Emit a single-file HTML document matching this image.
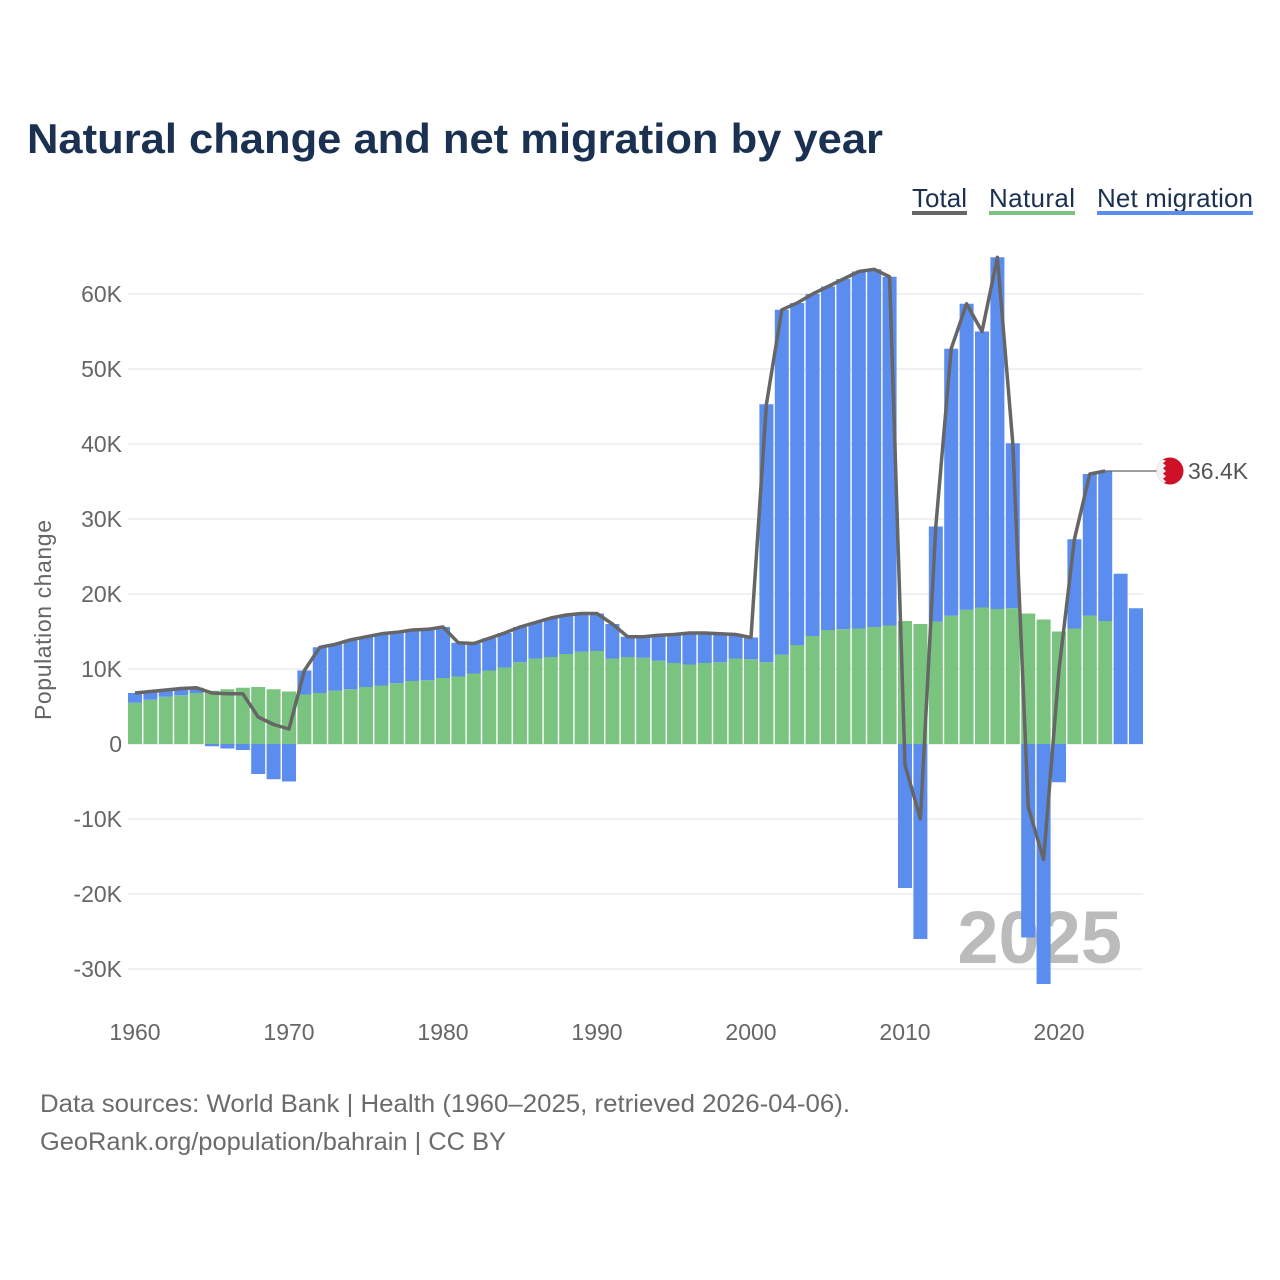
<!DOCTYPE html>
<html><head><meta charset="utf-8"><style>
body{margin:0;background:#fff;}
svg{display:block;font-family:"Liberation Sans",sans-serif;}
</style></head><body>
<svg id="chart" width="1280" height="1280" viewBox="0 0 1280 1280">
<text x="27" y="153" font-size="42" font-weight="bold" fill="#1b3152" textLength="856" lengthAdjust="spacingAndGlyphs">Natural change and net migration by year</text>
<g>
<g><text x="912" y="207" font-size="26" fill="#1b3152" textLength="55">Total</text><rect x="912" y="211" width="55" height="4" fill="#666"/></g>
<g><text x="989" y="207" font-size="26" fill="#1b3152" textLength="86">Natural</text><rect x="989" y="211" width="86" height="4" fill="#7bc47f"/></g>
<g><text x="1097" y="207" font-size="26" fill="#1b3152" textLength="156">Net migration</text><rect x="1097" y="211" width="156" height="4" fill="#5b8def"/></g>
</g>
<g id="grid"></g>
<g id="yticks"></g>
<g id="xticks"></g>
<text transform="translate(51,620) rotate(-90)" text-anchor="middle" font-size="23" fill="#666" textLength="200">Population change</text>
<text x="1122" y="963" text-anchor="end" font-size="74" font-weight="bold" fill="#bbb">2025</text>
<g id="bars"></g>
<path id="totalLine" fill="none" stroke="#666" stroke-width="3.5" stroke-linejoin="round"/>
<g id="endLabel"></g>
<text x="40" y="1112" font-size="25" fill="#6b6b6b" textLength="810" lengthAdjust="spacingAndGlyphs">Data sources: World Bank | Health (1960–2025, retrieved 2026-04-06).</text>
<text x="40" y="1150" font-size="25" fill="#6b6b6b" textLength="466" lengthAdjust="spacingAndGlyphs">GeoRank.org/population/bahrain | CC BY</text>
</svg>
<script>
const years = [];
for (let y = 1960; y <= 2025; y++) years.push(y);
const natural = [5.5,5.9,6.3,6.5,6.8,7.1,7.3,7.5,7.6,7.3,7.0,6.6,6.8,7.1,7.3,7.6,7.8,8.1,8.4,8.5,
8.8,9.0,9.4,9.8,10.2,10.9,11.4,11.6,12.0,12.3,12.4,11.4,11.6,11.5,11.1,10.8,10.6,10.8,10.9,11.4,
11.3,10.9,11.9,13.2,14.4,15.2,15.3,15.4,15.6,15.8,16.4,16.0,16.3,17.1,17.9,18.2,18.0,18.1,17.4,16.6,
15.0,15.4,17.1,16.4,null,null];
const migration = [1.3,1.1,0.9,0.9,0.7,-0.3,-0.6,-0.8,-4.0,-4.7,-5.0,3.2,6.1,6.2,6.6,6.7,6.9,6.8,6.8,6.8,
6.8,4.5,4.0,4.3,4.6,4.7,4.8,5.2,5.2,5.1,5.0,4.6,2.7,2.8,3.4,3.8,4.2,4.0,3.8,3.2,
2.9,34.4,46.0,45.6,45.6,45.8,46.7,47.6,47.7,46.5,-19.2,-26.0,12.7,35.6,40.8,36.8,46.9,22.0,-25.8,-32.0,
-5.1,11.9,18.9,20.0,22.7,18.1];
const yTicks = [-30,-20,-10,0,10,20,30,40,50,60];
const yTickLabels = ["-30K","-20K","-10K","0","10K","20K","30K","40K","50K","60K"];
const xTicks = [1960,1970,1980,1990,2000,2010,2020];

const NS = "http://www.w3.org/2000/svg";
const X0 = 135, STEP = 15.4, Y0 = 744, PER10 = 75;
const xs = yr => X0 + (yr - 1960) * STEP;
const ys = v => Y0 - v / 10 * PER10;
function mk(tag, attrs, parent){const e=document.createElementNS(NS,tag);for(const k in attrs)e.setAttribute(k,attrs[k]);parent.appendChild(e);return e;}

const grid=document.getElementById('grid'), yt=document.getElementById('yticks'), xt=document.getElementById('xticks');
yTicks.forEach((t,i)=>{
  const l=mk('line',{x1:128,x2:1143,y1:ys(t),y2:ys(t),stroke:'#e6e6e6','stroke-width':1.2},grid);
  
  
  const tx=mk('text',{x:122,y:ys(t)+8,'text-anchor':'end','font-size':23,fill:'#666'},yt);
  tx.textContent=yTickLabels[i];
  
  
});
xTicks.forEach(t=>{
  const tx=mk('text',{x:xs(t),y:1040,'text-anchor':'middle','font-size':23,fill:'#666'},xt);
  tx.textContent=t;
  
  
});

const bars=document.getElementById('bars');
const W=14;
years.forEach((yr,i)=>{
  const n=natural[i], m=migration[i], cx=xs(yr);
  let base=0;
  if(n!=null){
    const r=mk('rect',{x:cx-W/2,y:ys(n),width:W,height:ys(0)-ys(n),fill:'#7bc47f'},bars);
    
    
    base=n;
  }
  if(m!=null){
    let top,bot;
    if(m>=0){bot=base;top=base+m;}else{bot=0;top=m;}
    const a=Math.max(top,bot), b=Math.min(top,bot);
    const r=mk('rect',{x:cx-W/2,y:ys(a),width:W,height:ys(b)-ys(a),fill:'#5b8def'},bars);
    
    
  }
});

let d='', last=null;
years.forEach((yr,i)=>{
  if(natural[i]==null) return;
  const t=natural[i]+migration[i];
  d+=(d?'L':'M')+xs(yr).toFixed(1)+','+ys(t).toFixed(1);
  last={x:xs(yr),v:t};
});
document.getElementById('totalLine').setAttribute('d',d);

const el=document.getElementById('endLabel');
const ly=ys(last.v);
mk('line',{x1:last.x,x2:1157,y1:ly,y2:ly,stroke:'#666','stroke-width':1.2},el);
const cg=mk('g',{},el);


mk('circle',{cx:1170,cy:ly,r:13.5,fill:'#ce1126'},cg);
let zp='M1156.5,'+(ly-13);
for(let k=0;k<5;k++){const y1=ly-13+k*5.2;zp+=' L'+(1166)+','+(y1+2.6)+' L1163,'+(y1+5.2);}
zp+=' L1156.5,'+(ly+13)+'Z';
const clip=mk('clipPath',{id:'fc'},cg);
mk('circle',{cx:1170,cy:ly,r:13.5},clip);
mk('path',{d:zp,fill:'#f2f2f2','clip-path':'url(#fc)'},cg);
const lt=mk('text',{x:1188,y:ly+8,'font-size':23,fill:'#555'},el);
lt.textContent=last.v.toFixed(1)+'K';


</script>
</body></html>
